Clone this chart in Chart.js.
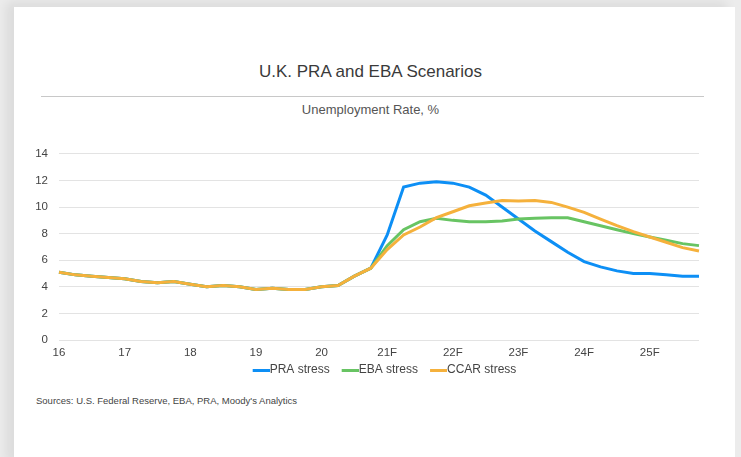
<!DOCTYPE html>
<html>
<head>
<meta charset="utf-8">
<script src="https://cdn.jsdelivr.net/npm/chart.js@4.4.0/dist/chart.umd.min.js"></script>
<style>
  html, body { margin: 0; padding: 0; }
  body {
    width: 741px; height: 457px; overflow: hidden; position: relative;
    background: #ececec;
    font-family: "Liberation Sans", Arial, sans-serif;
  }
  #card {
    position: absolute; left: 14px; top: 7px; width: 721px; height: 460px;
    background: #fff;
    box-shadow: -8px -5px 10px rgba(0,0,0,0.07);
  }
  #title {
    position: absolute; left: 0; top: 62px; width: 741px; text-align: center;
    font-size: 17px; color: #3a3a3a;
  }
  #rule {
    position: absolute; left: 41px; top: 96px; width: 663px; height: 1px; background: #c8c8c8;
  }
  #subtitle {
    position: absolute; left: 0; top: 102px; width: 741px; text-align: center;
    font-size: 13px; color: #555;
  }
  #chartBox {
    position: absolute; left: 14px; top: 136px; width: 721px; height: 252px;
  }
  #source {
    position: absolute; left: 36px; top: 395px; font-size: 9.5px; color: #444;
  }
</style>
</head>
<body>
<div id="card"></div>
<div id="title">U.K. PRA and EBA Scenarios</div>
<div id="rule"></div>
<div id="subtitle">Unemployment Rate, %</div>
<div id="chartBox"><canvas id="myChart"></canvas></div>
<div id="source">Sources: U.S. Federal Reserve, EBA, PRA, Moody's Analytics</div>

<script>
// quarters 2016Q1 .. 2025Q4, only Q1 gets a label
const years = ['16', '17', '18', '19', '20', '21F', '22F', '23F', '24F', '25F'];
const quarters = [];
years.forEach(function (y) {
  for (let q = 1; q <= 4; q++) quarters.push(y + ' Q' + q);
});

// history 2016Q1 - 2020Q4, shared by all three scenarios
const history = [5.1, 4.9, 4.8, 4.7, 4.6, 4.4, 4.3, 4.4, 4.2, 4.0, 4.1, 4.0,
                 3.8, 3.9, 3.8, 3.8, 4.0, 4.1, 4.8, 5.4];

// forecasts 2021Q1 - 2025Q4
const praForecast = [7.9, 11.5, 11.8, 11.9, 11.8, 11.5, 10.9, 10.0, 9.1, 8.2,
                     7.4, 6.6, 5.9, 5.5, 5.2, 5.0, 5.0, 4.9, 4.8, 4.8];
const ebaForecast = [7.1, 8.3, 8.9, 9.15, 9.0, 8.9, 8.9, 8.95, 9.1, 9.15,
                     9.2, 9.2, 8.9, 8.6, 8.3, 8.0, 7.75, 7.5, 7.25, 7.1];
const ccarForecast = [6.8, 7.9, 8.5, 9.2, 9.65, 10.1, 10.3, 10.5, 10.45, 10.5,
                      10.35, 10.0, 9.6, 9.1, 8.6, 8.15, 7.75, 7.35, 6.95, 6.7];

const yTicks = [0, 2, 4, 6, 8, 10, 12, 14];

const praStress = history.concat(praForecast);
const ebaStress = history.concat(ebaForecast);
const ccarStress = history.concat(ccarForecast);

// legend marker: a short line that sits right up against the label text
function legendLine(color) {
  const c = document.createElement('canvas');
  c.width = 29;
  c.height = 3;
  const g = c.getContext('2d');
  g.fillStyle = color;
  g.fillRect(12, 0, 17, 3);
  return c;
}

function makeSet(label, data, color, order) {
  return {
    label: label,
    data: data,
    borderColor: color,
    backgroundColor: color,
    borderWidth: 3,
    pointRadius: 0,
    tension: 0,
    order: order,
    pointStyle: legendLine(color)
  };
}

// move the legend a little (up, and right to match the original)
const legendNudge = {
  id: 'legendNudge',
  afterLayout: function (chart) {
    chart.legend.top -= 2;
    chart.legend.bottom -= 2;
    chart.legend.left += 25;
    chart.legend.right += 25;
  }
};

const ctx = document.getElementById('myChart').getContext('2d');
new Chart(ctx, {
  type: 'line',
  data: {
    labels: quarters,
    datasets: [
      makeSet('PRA stress', praStress, '#0d8ff5', 3),
      makeSet('EBA stress', ebaStress, '#68c463', 2),
      makeSet('CCAR stress', ccarStress, '#f5b13c', 1)
    ]
  },
  plugins: [legendNudge],
  options: {
    responsive: true,
    maintainAspectRatio: false,
    animation: false,
    layout: { padding: { top: 6, right: 36, left: 0, bottom: 0 } },
    plugins: {
      legend: {
        position: 'bottom',
        labels: {
          usePointStyle: true,
          pointStyleWidth: 17,
          boxHeight: 3,
          padding: 6,
          color: '#444',
          font: { family: 'Liberation Sans', size: 12 },
          sort: function (a, b) { return a.datasetIndex - b.datasetIndex; }
        }
      },
      tooltip: { enabled: false }
    },
    scales: {
      x: {
        grid: { display: false, drawTicks: false },
        border: { display: false },
        afterFit: function (scale) { scale.height = 20; },
        ticks: {
          autoSkip: false,
          maxRotation: 0,
          padding: 6,
          color: '#444',
          font: { family: 'Liberation Sans', size: 11.5 },
          callback: function (value, index) {
            return index % 4 === 0 ? years[index / 4] : '';
          }
        }
      },
      y: {
        min: 0,
        max: 14,
        afterBuildTicks: function (scale) {
          scale.ticks = yTicks.map(function (v) { return { value: v }; });
        },
        afterFit: function (scale) { scale.width = 45; },
        grid: { color: '#e3e3e3', lineWidth: 1, drawTicks: false },
        border: { display: false },
        ticks: {
          padding: 11,
          color: '#444',
          font: { family: 'Liberation Sans', size: 11.5 }
        }
      }
    }
  }
});
</script>
</body>
</html>
